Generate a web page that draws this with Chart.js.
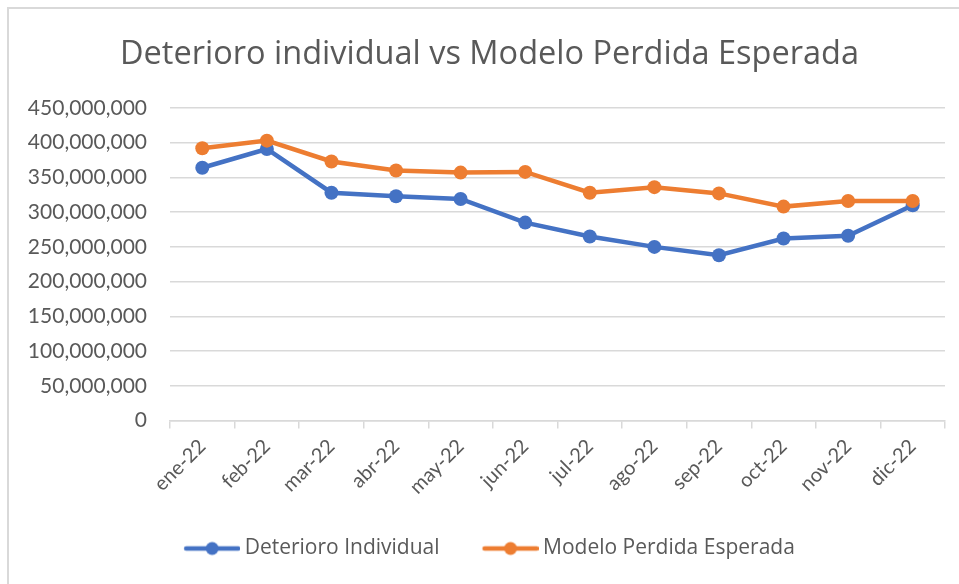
<!DOCTYPE html>
<html>
<head>
<meta charset="utf-8">
<script src="https://cdn.jsdelivr.net/npm/chart.js@4"></script>
<style>
  html, body { margin: 0; padding: 0; background: #fff; }
  #marco {
    position: absolute; left: 7px; top: 7px; width: 1000px; height: 1000px;
    border-left: 2px solid #d9d9d9; border-top: 2px solid #d9d9d9;
  }
  #lienzo { position: absolute; left: 0; top: 0; width: 959px; height: 584px; }
</style>
</head>
<body>
<div id="marco"></div>
<div id="lienzo"><canvas id="grafico" width="959" height="584"></canvas></div>
<script>
// Datos (en pesos)
const MESES = ['ene-22', 'feb-22', 'mar-22', 'abr-22', 'may-22', 'jun-22',
               'jul-22', 'ago-22', 'sep-22', 'oct-22', 'nov-22', 'dic-22'];

const DETERIORO_INDIVIDUAL = [364000000, 391000000, 328000000, 323000000, 319000000, 285000000,
                              265000000, 250000000, 238000000, 262000000, 266000000, 310000000];

const MODELO_PERDIDA = [392000000, 403000000, 373000000, 360000000, 357000000, 358000000,
                        328000000, 336000000, 327000000, 308000000, 316000000, 316000000];

const AZUL = '#4472C4';
const NARANJA = '#ED7D31';
const TEXTO = '#595959';
const GRILLA = '#d9d9d9';

// Símbolo de leyenda estilo Excel: línea con círculo al medio
// (el lienzo es más ancho a la izquierda para acercar el texto)
function simboloLeyenda(color) {
    const c = document.createElement('canvas');
    c.width = 62;
    c.height = 16;
    const ctx = c.getContext('2d');
    ctx.strokeStyle = color;
    ctx.lineWidth = 4.5;
    ctx.lineCap = 'round';
    ctx.beginPath();
    ctx.moveTo(8, 8);
    ctx.lineTo(60, 8);
    ctx.stroke();
    ctx.fillStyle = color;
    ctx.beginPath();
    ctx.arc(34, 8, 6.5, 0, Math.PI * 2);
    ctx.fill();
    return c;
}

const simbolos = [simboloLeyenda(AZUL), simboloLeyenda(NARANJA)];

new Chart(document.getElementById('grafico'), {
    type: 'line',
    data: {
        labels: MESES,
        datasets: [{
            label: 'Deterioro Individual',
            data: DETERIORO_INDIVIDUAL,
            borderColor: AZUL,
            backgroundColor: AZUL,
            borderWidth: 4.5,
            pointRadius: 7,
            pointBorderWidth: 0,
            tension: 0,
            order: 1
        }, {
            label: 'Modelo Perdida Esperada',
            data: MODELO_PERDIDA,
            borderColor: NARANJA,
            backgroundColor: NARANJA,
            borderWidth: 4.5,
            pointRadius: 7,
            pointBorderWidth: 0,
            tension: 0,
            order: 0
        }]
    },
    options: {
        responsive: false,
        animation: false,
        locale: 'en-US',
        // relleno asimétrico para centrar título y leyenda como en el original
        layout: { padding: { left: 25, right: 5, top: 0, bottom: 15 } },
        plugins: {
            tooltip: { enabled: false },
            title: {
                display: true,
                text: 'Deterioro individual vs Modelo Perdida Esperada',
                color: TEXTO,
                font: { family: 'Open Sans', size: 32.5, weight: 'normal' },
                padding: { top: 35.5, bottom: 33.5 }
            },
            legend: {
                position: 'bottom',
                labels: {
                    color: TEXTO,
                    font: { family: 'Open Sans', size: 21 },
                    usePointStyle: true,
                    pointStyleWidth: 50,
                    boxHeight: 16,
                    padding: 43,
                    generateLabels: (chart) => chart.data.datasets.map((ds, i) => ({
                        text: ds.label,
                        pointStyle: simbolos[i],
                        fontColor: TEXTO,
                        strokeStyle: ds.borderColor,
                        fillStyle: ds.borderColor,
                        lineWidth: 0,
                        hidden: false,
                        datasetIndex: i
                    }))
                }
            }
        },
        scales: {
            x: {
                offset: true,
                afterFit: (escala) => { escala.height = 74.5; },
                grid: {
                    offset: true,
                    drawOnChartArea: false,
                    color: GRILLA,
                    lineWidth: 1.5,
                    tickLength: 8
                },
                border: { color: GRILLA, width: 1.5 },
                ticks: {
                    color: TEXTO,
                    font: { family: 'Lato', size: 20 },
                    minRotation: 45,
                    maxRotation: 45,
                    padding: 6
                }
            },
            y: {
                min: 0,
                max: 450000000,
                afterFit: (escala) => { escala.width = 145; },
                grid: { color: GRILLA, lineWidth: 1.5, drawTicks: false },
                border: { display: false },
                ticks: {
                    stepSize: 50000000,
                    color: TEXTO,
                    font: { family: 'Lato', size: 21 },
                    padding: 23,
                    callback: (v) => v.toLocaleString('en-US')
                }
            },
            // eje vacío a la derecha: solo reserva el margen del área de trazado
            margenDerecho: {
                position: 'right',
                min: 0,
                max: 1,
                afterFit: (escala) => { escala.width = 9; },
                grid: { display: false },
                border: { display: false },
                ticks: { display: false }
            }
        }
    }
});
</script>
</body>
</html>
